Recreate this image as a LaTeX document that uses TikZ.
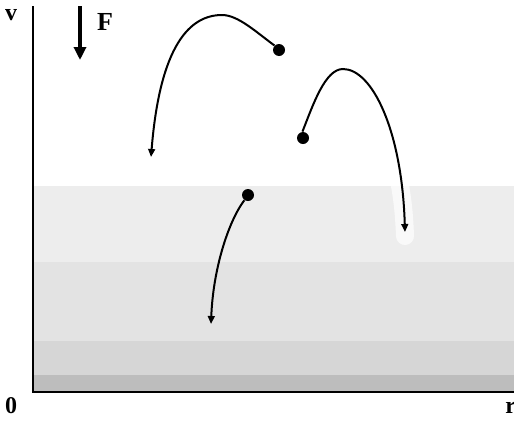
\documentclass[tikz,border=0pt]{standalone}
\usepackage{fontspec}
\setmainfont{Liberation Serif}
\usetikzlibrary{arrows.meta}
\definecolor{bandA}{gray}{0.93}
\definecolor{bandB}{gray}{0.89}
\definecolor{bandC}{gray}{0.84}
\definecolor{bandD}{gray}{0.74}
\begin{document}
\begin{tikzpicture}[
  x=0.5pt, y=-0.5pt,
  lbl/.style={inner sep=0pt, font=\fontsize{12}{14}\selectfont\bfseries},
  axis/.style={line width=0.7pt, black},
  dot/.style={circle, fill=black, inner sep=0pt, minimum size=6pt},
  traj/.style={line width=1pt, -{Triangle[length=4pt, width=3.4pt]}},
  halo/.style={line width=9pt, white, opacity=0.7, line cap=round},
  force/.style={line width=1.6pt, -{Triangle[length=6.5pt, width=6pt]}}
]
\useasboundingbox (0,0) rectangle (514,429);
% shaded region, lighter at the top
\fill[bandA] (34,186) rectangle (514,262);
\fill[bandB] (34,262) rectangle (514,341);
\fill[bandC] (34,341) rectangle (514,375);
\fill[bandD] (34,375) rectangle (514,391);
% axes
\coordinate (origin) at (33,392);
\coordinate (ytop) at (33,6);
\coordinate (xend) at (514,392);
\draw[axis] (ytop) -- (origin) -- (xend);
\node[lbl] (v) at (11,15) {v};
\node[lbl, anchor=base] (zero) at (11,413) {0};
\node[lbl, anchor=base west] (r) at (505,413) {r};
% force
\coordinate (ftop) at (80,6);
\coordinate (ftip) at (80,60);
\draw[force] (ftop) -- (ftip);
\node[lbl, font=\fontsize{13}{15}\selectfont\bfseries] (F) at (105,22) {F};
% particles
\node[dot] (p1) at (279,50) {};
\node[dot] (p2) at (303,138) {};
\node[dot] (p3) at (248,195) {};
\coordinate (e1) at (151,157);
\coordinate (e2) at (405,232);
\coordinate (e3) at (211,324);
\draw[halo] (398,175) .. controls (402,195) and (404,210) .. (405,236);
\draw[traj] (p1.135) .. controls (256,32) and (238,15) .. (222,15)
  .. controls (190,15) and (160,45) .. (e1);
\draw[traj] (p2.95) .. controls (313,105) and (325,69) .. (343,69)
  .. controls (372,69) and (402,130) .. (e2);
\draw[traj] (p3.235) .. controls (228,222) and (213,270) .. (e3);
\end{tikzpicture}
\end{document}
